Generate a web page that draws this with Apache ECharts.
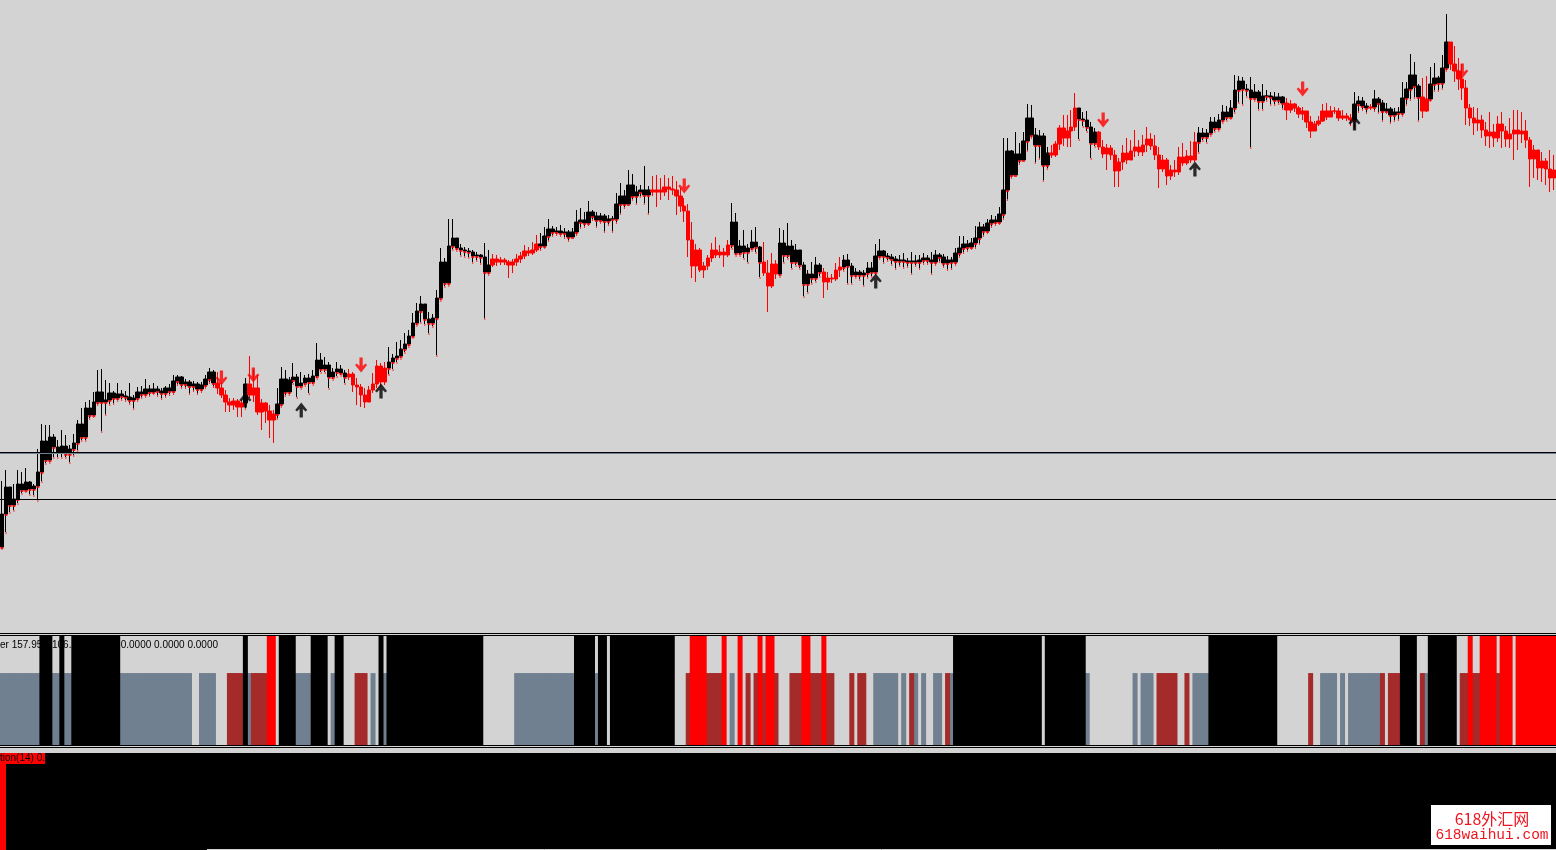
<!DOCTYPE html>
<html>
<head>
<meta charset="utf-8">
<title>chart</title>
<script src="https://cdn.jsdelivr.net/npm/echarts@6/dist/echarts.min.js"></script>
<style>
  html, body { margin: 0; padding: 0; background: #d3d3d3; }
  #chart { width: 1556px; height: 850px; }
</style>
</head>
<body>
<div id="chart"></div>
<script>
// prices in points, one candle per bar, open = previous close
const firstOpen = 86
const closes = [
  119, 146, 128, 134, 149, 143, 151, 144, 147, 161,
  192, 173, 196, 186, 181, 187, 179, 184, 190, 209,
  196, 225, 218, 231, 241, 231, 233, 240, 235, 239,
  237, 236, 233, 235, 241, 239, 244, 241, 244, 242,
  240, 245, 242, 252, 256, 249, 251, 247, 249, 244,
  248, 254, 261, 250, 245, 238, 231, 228, 232, 226,
  230, 249, 238, 245, 221, 230, 222, 213, 219, 229,
  254, 241, 253, 256, 247, 250, 255, 251, 257, 273,
  264, 268, 256, 261, 264, 260, 256, 259, 248, 246,
  238, 231, 243, 249, 267, 251, 265, 271, 275, 277,
  284, 289, 297, 310, 322, 329, 314, 310, 315, 335,
  371, 350, 387, 395, 385, 383, 382, 381, 377, 378,
  376, 361, 368, 374, 371, 373, 371, 368, 371, 374,
  377, 382, 380, 383, 389, 387, 397, 404, 401, 402,
  400, 401, 396, 401, 411, 413, 410, 421, 417, 413,
  417, 412, 414, 414, 429, 437, 429, 448, 437, 441,
  443, 438, 443, 441, 443, 441, 446, 444, 443, 437,
  427, 422, 393, 367, 383, 363, 367, 375, 383, 378,
  381, 378, 388, 411, 380, 387, 381, 385, 391, 386,
  371, 360, 347, 369, 359, 390, 378, 387, 371, 383,
  368, 349, 359, 355, 368, 361, 351, 355, 354, 363,
  366, 373, 367, 358, 361, 358, 360, 365, 361, 377,
  382, 377, 376, 374, 372, 373, 372, 371, 372, 371,
  373, 375, 373, 371, 378, 376, 370, 373, 371, 380,
  385, 389, 386, 390, 395, 406, 402, 410, 413, 411,
  419, 443, 482, 458, 479, 473, 492, 515, 498, 488,
  497, 468, 480, 478, 489, 505, 495, 502, 506, 525,
  514, 513, 506, 490, 501, 486, 479, 485, 478, 462,
  471, 480, 473, 482, 486, 481, 488, 494, 487, 478,
  464, 473, 457, 463, 461, 476, 470, 477, 473, 491,
  500, 496, 500, 511, 505, 513, 521, 516, 525, 543,
  552, 544, 543, 535, 541, 532, 537, 537, 536, 533,
  536, 530, 523, 529, 525, 519, 522, 511, 502, 509,
  512, 522, 516, 522, 522, 515, 517, 515, 513, 529,
  532, 527, 525, 526, 534, 530, 522, 524, 518, 521,
  520, 535, 544, 558, 547, 536, 522, 534, 549, 555,
  550, 565, 591, 569, 562, 554, 545, 525, 515, 510,
  513, 503, 497, 501, 495, 509, 502, 494, 499, 503,
  499, 502, 493, 474, 483, 465, 472, 464, 455, 463
]
const highs = [
  152, 163, 142, 149, 163, 161, 165, 152, 149, 184,
  209, 208, 208, 199, 193, 203, 198, 188, 199, 213,
  225, 231, 233, 241, 263, 264, 253, 250, 242, 250,
  243, 242, 250, 238, 246, 247, 254, 248, 250, 247,
  245, 247, 249, 258, 258, 257, 254, 253, 252, 251,
  251, 258, 265, 263, 261, 251, 243, 235, 235, 234,
  233, 255, 277, 263, 258, 234, 231, 228, 223, 245,
  266, 263, 256, 270, 259, 261, 258, 259, 263, 290,
  280, 276, 271, 265, 271, 268, 263, 264, 261, 255,
  249, 245, 247, 260, 273, 270, 271, 286, 279, 291,
  293, 300, 303, 320, 330, 337, 328, 321, 319, 343,
  385, 375, 414, 414, 393, 389, 386, 385, 383, 381,
  379, 390, 383, 379, 378, 376, 375, 373, 374, 379,
  381, 388, 386, 391, 398, 400, 406, 414, 407, 406,
  408, 405, 403, 405, 423, 425, 421, 432, 423, 421,
  420, 419, 418, 417, 440, 450, 443, 463, 459, 447,
  448, 467, 447, 457, 458, 455, 458, 455, 457, 452,
  445, 435, 429, 411, 389, 385, 371, 378, 390, 396,
  388, 385, 393, 430, 420, 393, 403, 389, 403, 406,
  387, 391, 373, 380, 373, 405, 403, 410, 393, 389,
  381, 371, 363, 371, 376, 370, 365, 361, 359, 370,
  376, 378, 379, 370, 365, 363, 363, 371, 371, 389,
  394, 383, 380, 379, 377, 378, 380, 375, 381, 378,
  378, 380, 378, 381, 383, 380, 379, 377, 376, 385,
  397, 397, 393, 395, 407, 411, 409, 414, 418, 417,
  426, 495, 495, 483, 501, 490, 501, 529, 528, 505,
  503, 500, 486, 488, 492, 508, 518, 518, 523, 540,
  523, 521, 522, 511, 505, 502, 493, 489, 488, 483,
  475, 488, 495, 493, 503, 493, 498, 506, 500, 498,
  486, 478, 475, 468, 473, 486, 490, 483, 492, 501,
  506, 505, 504, 516, 516, 519, 528, 527, 533, 558,
  557, 556, 549, 556, 549, 543, 549, 543, 541, 541,
  540, 537, 535, 533, 530, 527, 526, 522, 517, 512,
  517, 529, 530, 527, 526, 525, 523, 520, 519, 541,
  537, 536, 530, 529, 543, 536, 533, 530, 526, 525,
  526, 551, 551, 579, 571, 549, 555, 557, 566, 570,
  557, 578, 619, 588, 587, 575, 569, 553, 529, 526,
  525, 518, 511, 521, 509, 517, 521, 507, 515, 523,
  523, 521, 513, 496, 488, 483, 481, 475, 483, 478
]
const lows = [
  85, 101, 121, 123, 130, 140, 142, 139, 138, 133,
  152, 170, 171, 176, 176, 176, 176, 171, 178, 183,
  193, 193, 215, 217, 229, 202, 219, 229, 230, 233,
  234, 233, 230, 225, 233, 236, 237, 238, 240, 238,
  235, 237, 239, 240, 249, 246, 246, 240, 243, 240,
  242, 246, 251, 247, 239, 235, 221, 221, 223, 216,
  216, 225, 235, 231, 218, 203, 210, 195, 190, 215,
  227, 238, 239, 250, 236, 245, 248, 240, 249, 255,
  261, 261, 245, 254, 257, 258, 250, 253, 241, 228,
  226, 225, 231, 240, 245, 246, 248, 259, 264, 271,
  275, 281, 287, 296, 308, 311, 309, 300, 307, 278,
  333, 347, 348, 384, 383, 378, 377, 376, 371, 373,
  370, 315, 359, 366, 367, 368, 368, 355, 360, 367,
  370, 374, 377, 378, 381, 384, 386, 393, 398, 399,
  398, 396, 393, 396, 399, 406, 407, 409, 414, 407,
  411, 402, 409, 402, 411, 420, 426, 433, 434, 430,
  437, 430, 420, 437, 426, 433, 437, 433, 438, 418,
  421, 411, 376, 355, 351, 361, 355, 363, 371, 375,
  375, 366, 376, 385, 378, 378, 375, 371, 383, 381,
  356, 357, 321, 345, 354, 357, 371, 375, 365, 368,
  365, 337, 341, 350, 352, 357, 335, 343, 350, 352,
  356, 363, 350, 350, 356, 354, 348, 356, 357, 360,
  375, 371, 373, 369, 365, 368, 366, 367, 360, 368,
  365, 370, 370, 360, 369, 372, 367, 364, 365, 369,
  377, 381, 383, 385, 386, 390, 398, 401, 407, 409,
  410, 415, 434, 456, 463, 470, 473, 483, 496, 471,
  475, 453, 465, 475, 476, 483, 487, 486, 486, 502,
  494, 507, 502, 475, 487, 483, 475, 463, 473, 446,
  446, 463, 469, 475, 476, 477, 477, 481, 483, 473,
  445, 461, 448, 453, 456, 458, 467, 468, 470, 471,
  481, 493, 491, 498, 502, 503, 511, 513, 515, 521,
  531, 529, 537, 486, 533, 524, 524, 533, 529, 529,
  530, 525, 513, 520, 521, 515, 513, 505, 495, 502,
  507, 511, 513, 518, 519, 512, 513, 512, 507, 505,
  522, 524, 521, 523, 523, 521, 513, 521, 511, 513,
  514, 518, 529, 534, 536, 513, 515, 521, 533, 543,
  543, 545, 563, 563, 551, 543, 533, 508, 507, 498,
  502, 495, 487, 485, 486, 491, 485, 486, 485, 473,
  483, 490, 485, 446, 455, 453, 451, 448, 441, 443
]
// bars painted red by the trend filter: [first bar, count]
const redCandleRuns = [[54, 7], [62, 7], [87, 10], [123, 12], [163, 20], [191, 4], [206, 5],
  [263, 7], [275, 25], [322, 17], [343, 1], [356, 2], [363, 27]]
// signal arrows: [bar, price]
const sellArrows = [[55, 255], [63, 258], [90, 268], [171, 447], [276, 513], [326, 544], [366, 562]]
const buyArrows = [[61, 233], [75, 223], [95, 242], [219, 352], [299, 464], [339, 510]]
// horizontal levels
const levelLines = [180.5, 133.5]
const levelShadow = [179.5]
// histogram pane: [first bar, count]
const blackRuns = [[10, 3], [15, 1], [18, 12], [61, 1], [70, 4], [78, 4], [84, 2], [95, 1], [97, 24],
  [144, 5], [150, 2], [153, 16], [239, 22], [262, 10], [303, 17], [351, 4], [358, 7]]
const redRuns = [[67, 2], [173, 4], [181, 1], [185, 1], [190, 1], [192, 2], [201, 2], [206, 1],
  [368, 1], [371, 4], [376, 3], [380, 10]]
const grayRuns = [[0, 10], [13, 2], [16, 2], [30, 18], [50, 4], [62, 1], [74, 4], [83, 1], [93, 1],
  [96, 1], [129, 15], [149, 1], [183, 1], [219, 6], [226, 1], [229, 1], [231, 1], [234, 2], [238, 1],
  [272, 1], [284, 1], [286, 3], [299, 4], [331, 4], [336, 1], [338, 8], [357, 1]]
const brownRuns = [[57, 4], [63, 4], [89, 3], [172, 9], [187, 1], [189, 6], [198, 11], [213, 1],
  [215, 2], [228, 1], [237, 1], [290, 5], [297, 1], [328, 1], [346, 1], [348, 3], [356, 1], [366, 10]]
const fullLevel = 100
const partLevel = 66
// lower oscillator pane
const bottomHist = [0.9]

const N = closes.length
const cats = closes.map((c, i) => i)

function runsToMask (runs) {
  let m = new Array(N).fill(false)
  runs.forEach(([s, n]) => {
    for (let i = s; i < s + n && i < N; i++) m[i] = true
  })
  return m
}
function runsToValues (runs, level) {
  return runsToMask(runs).map(v => (v ? level : '-'))
}

const isRed = runsToMask(redCandleRuns)
const opens = closes.map((c, i) => (i === 0 ? firstOpen : closes[i - 1]))

const candles = closes.map((c, i) => {
  let o = opens[i]
  let col = isRed[i] ? '#ff0000' : '#000000'
  return {
    value: [o, c, Math.min(lows[i], o, c), Math.max(highs[i], o, c)],
    itemStyle: { color: col, color0: col, borderColor: col, borderColor0: col }
  }
})
// red tick under black bodies and at black lows
const bodyTicks = []
const lowTicks = []
closes.forEach((c, i) => {
  if (isRed[i]) return
  let bottom = Math.min(opens[i], c)
  bodyTicks.push([i, bottom])
  if (lows[i] < bottom) lowTicks.push([i, lows[i]])
})

const upArrow = 'path://M4,14 L7,14 L7,6 L9.5,8.5 L11,7 L5.5,0 L0,7 L1.5,8.5 L4,6 Z'
const downArrow = 'path://M4,0 L7,0 L7,8 L9.5,5.5 L11,7 L5.5,14 L0,7 L1.5,5.5 L4,8 Z'

const font = '10px "Liberation Sans", Arial, sans-serif'
function hline (y, x1, color) {
  return {
    type: 'line',
    z: 5,
    silent: true,
    shape: { x1: x1, y1: y, x2: 1556, y2: y },
    style: { stroke: color, lineWidth: 1 }
  }
}
// histogram bars are a bit wider than the slot so neighbours join without seams
function histBar (runs, level, color) {
  return {
    type: 'bar',
    xAxisIndex: 1,
    yAxisIndex: 1,
    barWidth: 5,
    barGap: '-100%',
    itemStyle: { color: color },
    data: runsToValues(runs, level)
  }
}

let myChart = echarts.init(document.getElementById('chart'))
myChart.setOption({
  animation: false,
  backgroundColor: '#d3d3d3',
  grid: [
    { left: -1.5, width: 1560, top: 0, height: 633 },
    { left: -1, width: 1560, top: 636, height: 109 },
    { left: -1, width: 1560, top: 753, height: 97, show: true, backgroundColor: '#000000', borderWidth: 0 }
  ],
  xAxis: [0, 1, 2].map(g => ({
    type: 'category',
    gridIndex: g,
    data: cats,
    show: false
  })),
  yAxis: [
    { type: 'value', gridIndex: 0, min: 0, max: 633, show: false },
    { type: 'value', gridIndex: 1, min: 0, max: 100, show: false },
    { type: 'value', gridIndex: 2, min: 0, max: 1, show: false }
  ],
  series: [
    {
      name: 'price',
      type: 'candlestick',
      xAxisIndex: 0,
      yAxisIndex: 0,
      barWidth: 4,
      data: candles,
      itemStyle: { borderWidth: 1 },
      markLine: {
        silent: true,
        symbol: 'none',
        label: { show: false },
        data: levelLines.map(v => ({ yAxis: v, lineStyle: { color: '#000000', width: 1, type: 'solid' } }))
          .concat(levelShadow.map(v => ({ yAxis: v, lineStyle: { color: '#708090', width: 1, type: 'solid' } })))
      }
    },
    {
      type: 'scatter',
      xAxisIndex: 0,
      yAxisIndex: 0,
      symbol: 'rect',
      symbolSize: [3, 2],
      symbolOffset: [0, 1],
      itemStyle: { color: '#ff0000' },
      data: bodyTicks,
      z: 3
    },
    {
      type: 'scatter',
      xAxisIndex: 0,
      yAxisIndex: 0,
      symbol: 'rect',
      symbolSize: [1, 2],
      symbolOffset: [0, 1],
      itemStyle: { color: '#ff0000' },
      data: lowTicks,
      z: 3
    },
    {
      name: 'sell',
      type: 'scatter',
      xAxisIndex: 0,
      yAxisIndex: 0,
      symbol: downArrow,
      symbolSize: [12, 15],
      itemStyle: { color: '#ff0000' },
      data: sellArrows,
      z: 4
    },
    {
      name: 'buy',
      type: 'scatter',
      xAxisIndex: 0,
      yAxisIndex: 0,
      symbol: upArrow,
      symbolSize: [12, 15],
      itemStyle: { color: '#000000' },
      data: buyArrows,
      z: 4
    },
    // histogram pane, all bars overlap in one slot
    histBar(grayRuns, partLevel, '#708090'),
    histBar(brownRuns, partLevel, '#a52a2a'),
    histBar(blackRuns, fullLevel, '#000000'),
    histBar(redRuns, fullLevel, '#ff0000'),
    {
      type: 'bar', xAxisIndex: 2, yAxisIndex: 2, barWidth: 8,
      itemStyle: { color: '#ff0000' }, data: bottomHist
    }
  ],
  graphic: [
    hline(633.5, 0, '#000000'),
    hline(635.5, 0, '#000000'),
    hline(745.5, 0, '#000000'),
    hline(747.5, 0, '#000000'),
    hline(849.5, 207, '#d3d3d3'),
    // indicator readout, sits under the histogram
    { type: 'text', z: 0, x: 0, y: 640, style: { text: 'er 157.95', font: font, fill: '#000000' } },
    { type: 'text', z: 0, x: 52, y: 640, style: { text: '106.5000', font: font, fill: '#000000' } },
    { type: 'text', z: 0, x: 218, y: 640, style: { text: '0.0000 0.0000 0.0000 0.0000', font: font, fill: '#000000', align: 'right' } },
    {
      type: 'text', z: 50, x: 0, y: 753,
      style: { text: 'tion(14) 0.', font: font, fill: '#000000', backgroundColor: '#ff0000', lineHeight: 11, padding: [0, 0, 0, 0] }
    },
    // watermark
    {
      type: 'group', z: 100,
      children: [
        { type: 'rect', shape: { x: 1431, y: 805, width: 120, height: 40 }, style: { fill: '#ffffff' } },
        {
          type: 'text', x: 1492, y: 819,
          style: { text: '618外汇网', font: '16px "Noto Sans CJK SC", sans-serif', fill: '#f0141e', align: 'center', verticalAlign: 'middle' }
        },
        {
          type: 'text', x: 1492, y: 835,
          style: { text: '618waihui.com', font: '14.5px "Liberation Mono", monospace', fill: '#f0141e', align: 'center', verticalAlign: 'middle' }
        }
      ]
    }
  ]
})
</script>
</body>
</html>
